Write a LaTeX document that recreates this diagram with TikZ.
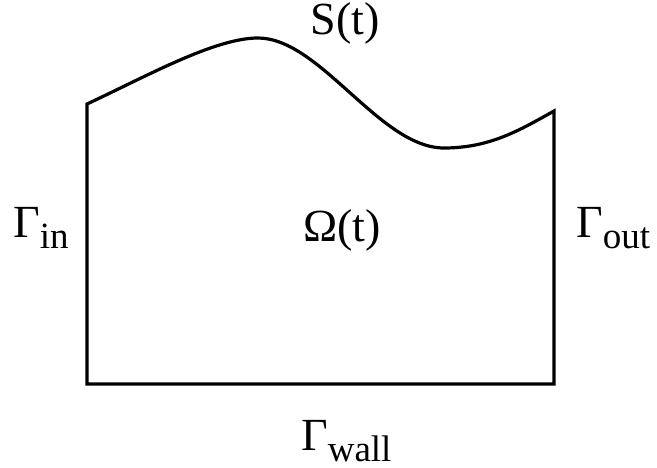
\documentclass[tikz,border=0pt]{standalone}
\usepackage{fontspec}
\setmainfont{Liberation Serif}
\newcommand{\bigtxt}{\fontsize{46}{50}\selectfont}
\newcommand{\subtxt}[1]{\raisebox{-11pt}{\fontsize{37}{40}\selectfont #1}}
\begin{document}
\begin{tikzpicture}[x=1pt,y=-1pt,
  lbl/.style={inner sep=0pt,font=\bigtxt},
  wall/.style={line width=3.2pt,line join=miter}]
\useasboundingbox (0,0) rectangle (657,468);
\draw[wall] (87,104) .. controls (147,76) and (215,38) .. (258,38)
  .. controls (320,38) and (380,148) .. (444,148)
  .. controls (490,148) and (520,130) .. (554,111)
  -- (554,384) -- (87,384) -- cycle;
\node[lbl,anchor=base] (s) at (345,35) {S(t)};
\node[lbl,anchor=base] (om) at (342,242) {Ω(t)};
\node[lbl,anchor=base west] (gin) at (13,238) {Γ\subtxt{in}};
\node[lbl,anchor=base west] (gout) at (576,238) {Γ\subtxt{out}};
\node[lbl,anchor=base west] (gwall) at (301,450) {Γ\subtxt{wall}};
\end{tikzpicture}
\end{document}
